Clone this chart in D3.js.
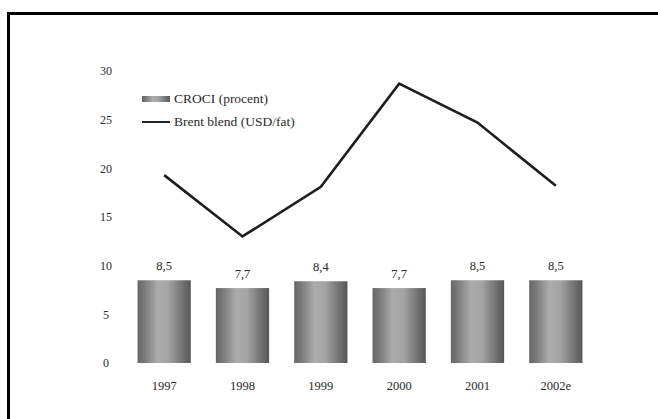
<!DOCTYPE html>
<html>
<head>
<meta charset="utf-8">
<script src="https://cdn.jsdelivr.net/npm/d3@7/dist/d3.min.js"></script>
<style>
  html, body { margin: 0; padding: 0; background: #ffffff; }
  svg { display: block; }
  svg text { font-family: "Times New Roman", "Liberation Serif", "DejaVu Serif", serif; fill: #2a2a2a; }
</style>
</head>
<body>
<svg id="chart" width="658" height="419"></svg>
<script>
// Years on the x axis
const years = ["1997", "1998", "1999", "2000", "2001", "2002e"];
// CROCI per year (percent), drawn as bars
const croci = [8.5, 7.7, 8.4, 7.7, 8.5, 8.5];
// Bar value labels as printed (Swedish decimal comma)
const crociLabels = ["8,5", "7,7", "8,4", "7,7", "8,5", "8,5"];
// Brent blend price per year (USD per barrel), drawn as a line
const brent = [19.3, 13.0, 18.1, 28.7, 24.7, 18.2];
// Left axis ticks
const yTicks = [0, 5, 10, 15, 20, 25, 30];
// Legend entries
const legendItems = ["CROCI (procent)", "Brent blend (USD/fat)"];

const svg = d3.select("#chart");

// Frame: heavy rule along the top and left edges
svg.append("line").attr("x1", 8.5).attr("x2", 658).attr("y1", 13.5).attr("y2", 13.5)
  .attr("stroke", "#000").attr("stroke-width", 3);
svg.append("line").attr("x1", 8.5).attr("x2", 8.5).attr("y1", 12).attr("y2", 419)
  .attr("stroke", "#000").attr("stroke-width", 3);

const x = d3.scaleBand().domain(years).range([125, 595])
  .paddingInner(0.32).paddingOuter(0.16);
const y = d3.scaleLinear().domain([0, 30]).range([363, 71]);

// Cylinder-like horizontal shading for the bars
const defs = svg.append("defs");
const grad = defs.append("linearGradient").attr("id", "barShade")
  .attr("x1", "0%").attr("x2", "100%").attr("y1", "0%").attr("y2", "0%");
[[0, "#666666"], [0.12, "#787878"], [0.38, "#acacac"], [0.58, "#a4a4a4"],
 [0.85, "#717171"], [1, "#585858"]].forEach(([o, c]) =>
  grad.append("stop").attr("offset", o).attr("stop-color", c));

// Left axis: labels only
const yAxis = svg.append("g").attr("transform", "translate(106,0)")
  .call(d3.axisLeft(y).tickValues(yTicks).tickSize(0).tickPadding(0));
yAxis.attr("font-family", null);
yAxis.select(".domain").remove();
yAxis.selectAll("text")
  .attr("text-anchor", "middle")
  .attr("font-size", 12);

// Bottom axis: year labels only
const xAxis = svg.append("g").attr("transform", "translate(0,381)")
  .call(d3.axisBottom(x).tickSize(0).tickPadding(0));
xAxis.attr("font-family", null);
xAxis.select(".domain").remove();
xAxis.selectAll("text")
  .attr("font-size", 12.5);

// CROCI bars
svg.append("g").selectAll("rect").data(croci).join("rect")
  .attr("x", (d, i) => x(years[i]))
  .attr("width", x.bandwidth())
  .attr("y", d => y(d))
  .attr("height", d => y(0) - y(d))
  .attr("fill", "url(#barShade)");

// Value labels above the bars
svg.append("g").selectAll("text").data(croci).join("text")
  .attr("x", (d, i) => x(years[i]) + x.bandwidth() / 2)
  .attr("y", d => y(d) - 10)
  .attr("text-anchor", "middle")
  .attr("font-size", 12.5)
  .text((d, i) => crociLabels[i]);

// Brent line through the bar centres
const line = d3.line()
  .x((d, i) => x(years[i]) + x.bandwidth() / 2)
  .y(d => y(d));
svg.append("path").datum(brent)
  .attr("d", line)
  .attr("fill", "none")
  .attr("stroke", "#1e1e1e")
  .attr("stroke-width", 2.6)
  .attr("stroke-linejoin", "miter");

// Legend
const legend = svg.append("g").attr("transform", "translate(142,0)");
legend.append("rect").attr("x", 0).attr("y", 96).attr("width", 28).attr("height", 6)
  .attr("fill", "url(#barShade)");
legend.append("line").attr("x1", 0).attr("x2", 28).attr("y1", 122).attr("y2", 122)
  .attr("stroke", "#222").attr("stroke-width", 2);
legend.selectAll("text.leg").data(legendItems).join("text")
  .attr("class", "leg")
  .attr("x", 32)
  .attr("y", (d, i) => 103 + i * 23)
  .attr("font-size", 13.5)
  .text(d => d);
</script>
</body>
</html>
